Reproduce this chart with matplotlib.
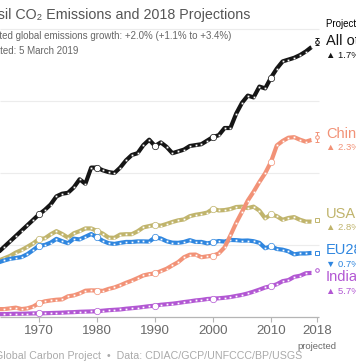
"""Fossil CO2 emissions by top emitters with 2018 projections."""
import matplotlib

matplotlib.use("Agg")
import matplotlib.pyplot as plt

W, H = 356, 364

years = list(range(1960, 2018))
all_others = [
    3.0, 3.15, 3.35, 3.6, 3.9, 4.2, 4.5, 4.8, 5.1, 5.4,
    5.7, 5.95, 6.25, 6.7, 6.85, 6.9, 7.2, 7.65, 7.4, 8.3,
    8.3, 8.15, 8.05, 8.0, 8.3, 8.7, 9.0, 9.1, 9.55, 9.85,
    9.5, 9.7, 9.45, 9.1, 9.2, 9.3, 9.5, 9.55, 9.6, 9.8,
    10.0, 10.1, 10.5, 10.5, 11.3, 11.9, 12.3, 12.2, 12.8, 12.7,
    13.3, 13.8, 14.2, 14.3, 14.4, 14.55, 14.75, 15.0,
]
china = [
    0.78, 0.55, 0.44, 0.44, 0.44, 0.48, 0.52, 0.44, 0.48, 0.58,
    0.77, 0.87, 0.92, 0.96, 0.98, 1.15, 1.20, 1.31, 1.46, 1.48,
    1.47, 1.45, 1.56, 1.64, 1.76, 1.90, 2.02, 2.16, 2.31, 2.38,
    2.42, 2.55, 2.68, 2.87, 3.05, 3.32, 3.46, 3.47, 3.32, 3.37,
    3.41, 3.53, 3.87, 4.53, 5.23, 5.84, 6.47, 6.96, 7.50, 7.99,
    8.62, 9.53, 9.78, 9.96, 9.99, 9.85, 9.74, 9.84,
]
usa = [
    2.89, 2.88, 2.99, 3.13, 3.26, 3.39, 3.58, 3.72, 3.90, 4.09,
    4.33, 4.37, 4.59, 4.77, 4.61, 4.41, 4.65, 4.77, 4.92, 4.92,
    4.78, 4.63, 4.41, 4.40, 4.58, 4.60, 4.60, 4.76, 4.98, 5.05,
    5.12, 5.07, 5.17, 5.28, 5.37, 5.42, 5.60, 5.68, 5.73, 5.80,
    6.01, 5.92, 5.94, 6.00, 6.11, 6.13, 6.05, 6.13, 5.91, 5.48,
    5.70, 5.60, 5.40, 5.50, 5.55, 5.40, 5.30, 5.30,
]
eu28 = [
    2.59, 2.69, 2.86, 3.03, 3.14, 3.23, 3.28, 3.33, 3.49, 3.72,
    3.96, 4.00, 4.13, 4.34, 4.21, 4.10, 4.35, 4.31, 4.46, 4.61,
    4.43, 4.23, 4.10, 4.06, 4.12, 4.17, 4.17, 4.20, 4.20, 4.19,
    4.42, 4.36, 4.21, 4.13, 4.12, 4.17, 4.27, 4.17, 4.17, 4.09,
    4.15, 4.22, 4.19, 4.28, 4.27, 4.24, 4.25, 4.21, 4.12, 3.82,
    3.93, 3.78, 3.74, 3.65, 3.48, 3.53, 3.53, 3.56,
]
india = [
    0.12, 0.13, 0.14, 0.16, 0.16, 0.17, 0.18, 0.18, 0.19, 0.20,
    0.20, 0.21, 0.22, 0.23, 0.24, 0.26, 0.27, 0.29, 0.30, 0.31,
    0.32, 0.35, 0.38, 0.40, 0.42, 0.46, 0.49, 0.52, 0.56, 0.60,
    0.63, 0.68, 0.71, 0.74, 0.78, 0.83, 0.87, 0.92, 0.95, 1.00,
    1.02, 1.04, 1.07, 1.11, 1.17, 1.23, 1.31, 1.41, 1.52, 1.64,
    1.71, 1.82, 1.99, 2.05, 2.23, 2.29, 2.43, 2.45,
]

names = ["All others", "China", "USA", "EU28", "India"]
colors = ["#151515", "#f29277", "#c0b46c", "#2f86df", "#b257d3"]
proj_2018 = [15.3, 10.0, 5.4, 3.55, 2.6]
proj_err = [0.2, 0.3, 0.0, 0.0, 0.0]
proj_markers = ["o", "o", "s", "s", "o"]
growth = ["▲ 1.7%", "▲ 2.3%", "▲ 2.8%", "▼ 0.7%", "▲ 5.7%"]
label_y = [41, 134, 214, 250, 277]  # label centres in pixels

xticks = [1970, 1980, 1990, 2000, 2010, 2018]
decades = [1970, 1980, 1990, 2000, 2010]
gridlines = [4, 8, 12, 16]

FONT = ["Liberation Sans", "DejaVu Sans"]


def fx(px):
    return px / W


def fy(py):
    return 1 - py / H


def main():
    plt.rcParams["font.family"] = FONT
    fig = plt.figure(figsize=(W / 100, H / 100), dpi=100)
    ax = fig.add_axes([0, 47 / H, 1, 317 / H])
    x0 = 1970 - 39 / 5.8
    ax.set_xlim(x0, 1970 + (W - 39) / 5.8)
    ax.set_ylim(0, 317 / 18)
    for side in ax.spines.values():
        side.set_visible(False)

    # grid and axis line stop at 2018
    ax.hlines(gridlines, x0, 2018.3, color="#ececec", lw=0.8, zorder=0)
    ax.hlines(0, x0, 2018.2, color="#b5b5b5", lw=0.9, clip_on=False)
    ax.set_yticks([])
    ax.set_xticks(xticks)
    ax.set_xticklabels([str(x) for x in xticks])
    ax.tick_params(axis="x", length=3.5, width=0.8, color="#b5b5b5",
                   labelsize=9.6, labelcolor="#6a6a6a", pad=2.5)
    ax.text(2018, -1.62, "projected", ha="center", va="center",
            fontsize=6.8, color="#6a6a6a")

    series = [all_others, china, usa, eu28, india]
    # draw China after the flat ones so it crosses them
    order = [2, 3, 4, 1, 0]
    for i in order:
        vals = series[i]
        col = colors[i]
        z = 3 + order.index(i)
        ax.plot(years, vals, color=col, lw=3.0, solid_capstyle="butt",
                zorder=z)
        ax.plot(years, vals, ls="none", marker="s", ms=1.3, mew=0,
                color="white", zorder=z)
        dec = [vals[years.index(d)] for d in decades]
        ax.plot(decades, dec, ls="none", marker="o", ms=4.6, mfc="white",
                mec=col, mew=0.5, zorder=z)
        ax.errorbar([2018], [proj_2018[i]],
                    yerr=[proj_err[i]] if proj_err[i] else None,
                    marker=proj_markers[i], ms=2.6, mfc="white", mec=col,
                    mew=0.7, ecolor=col, elinewidth=0.7, capsize=1.6,
                    capthick=0.7, zorder=z)

    # right-hand labels (cut off by the figure edge)
    fig.text(fx(326), fy(24), "Projected 2018", fontsize=7, color="black",
             ha="left", va="center")
    for i, name in enumerate(names):
        fig.text(fx(326), fy(label_y[i]), name, fontsize=10.5,
                 color=colors[i], ha="left", va="center")
        fig.text(fx(326), fy(label_y[i] + 14), growth[i], fontsize=6.8,
                 color=colors[i], ha="left", va="center")

    # titles and footer, left part cut off
    fig.text(fx(250), fy(15), "Fossil CO₂ Emissions and 2018 Projections",
             fontsize=10.3, color="#555555", ha="right", va="center")
    fig.text(fx(231), fy(36),
             "Projected global emissions growth: +2.0% (+1.1% to +3.4%)",
             fontsize=7, color="#666666", ha="right", va="center")
    fig.text(fx(78), fy(51), "Updated: 5 March 2019",
             fontsize=7, color="#666666", ha="right", va="center")
    fig.text(fx(302), fy(356),
             "Global Carbon Project  •  Data: CDIAC/GCP/UNFCCC/BP/USGS",
             fontsize=7.7, color="#aaaaaa", ha="right", va="center")

    fig.savefig("out.png", dpi=100)


if __name__ == "__main__":
    main()
